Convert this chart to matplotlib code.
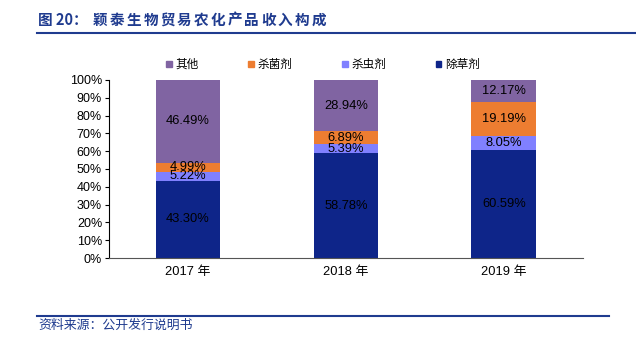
import numpy as np
import matplotlib.pyplot as plt
from matplotlib.patches import Patch
from matplotlib.lines import Line2D

plt.rcParams['font.family'] = ['Liberation Sans', 'Noto Sans CJK SC', 'DejaVu Sans']

years = ['2017 年', '2018 年', '2019 年']
herbicide = [43.30, 58.78, 60.59]
insecticide = [5.22, 5.39, 8.05]
fungicide = [4.99, 6.89, 19.19]
other = [46.49, 28.94, 12.17]

series = [('除草剂', herbicide, '#0E2589'),
          ('杀虫剂', insecticide, '#8080FF'),
          ('杀菌剂', fungicide, '#ED7D31'),
          ('其他', other, '#8064A2')]

W, H = 636, 352
fig = plt.figure(figsize=(W / 100, H / 100), dpi=100)
ax = fig.add_axes([0.1714, 0.267, 0.745, 0.506])

x = np.arange(len(years))
bottom = np.zeros(len(years))
for name, vals, color in series:
    vals = np.array(vals)
    ax.bar(x, vals, 0.41, bottom=bottom, color=color, label=name)
    for xi, b, v in zip(x, bottom, vals):
        ax.text(xi, b + v / 2, f'{v:.2f}%', ha='center', va='center',
                fontsize=9.3, color='black')
    bottom += vals

ax.set_xlim(-0.5, 2.5)
ax.set_ylim(0, 100)
ax.set_yticks(np.arange(0, 101, 10))
ax.set_yticklabels([f'{v}%' for v in range(0, 101, 10)], fontsize=9)
ax.set_xticks(x)
ax.set_xticklabels(years, fontsize=9.3)
ax.tick_params(axis='x', length=0, pad=6)
ax.tick_params(axis='y', direction='out', length=3, width=0.8, pad=2)
for s in ['top', 'right']:
    ax.spines[s].set_visible(False)
ax.spines['left'].set_color('black')
ax.spines['bottom'].set_color('#555555')

handles = [Patch(color=c, label=n) for n, _, c in series[::-1]]
fig.legend(handles=handles, loc='center', bbox_to_anchor=(323 / W, 1 - 65 / H), ncol=4,
           frameon=False, fontsize=8.4, handlelength=0.45, handleheight=0.5,
           handletextpad=0.3, columnspacing=4.3)

# title, spaced out glyph by glyph
blue = '#1F3B8F'
fig.text(38 / W, 1 - 20 / H, '图 20：', fontsize=10.5, fontweight='bold',
         color=blue, va='center', family=['Noto Sans CJK SC'])
for i, ch in enumerate('颖泰生物贸易农化产品收入构成'):
    fig.text((93 + i * 16.8) / W, 1 - 20 / H, ch, fontsize=10.5, fontweight='bold',
             color=blue, va='center', family=['Noto Sans CJK SC'])
fig.add_artist(Line2D([37 / W, 1.0], [1 - 33 / H] * 2, color=blue, lw=1.5))
fig.add_artist(Line2D([37 / W, 609 / W], [1 - 316 / H] * 2, color=blue, lw=1.5))
fig.text(38 / W, 1 - 325 / H, '资料来源：公开发行说明书', fontsize=9.3, color=blue,
         style='italic', va='center', family=['Noto Sans CJK SC'])

fig.savefig('out.png', dpi=100)
